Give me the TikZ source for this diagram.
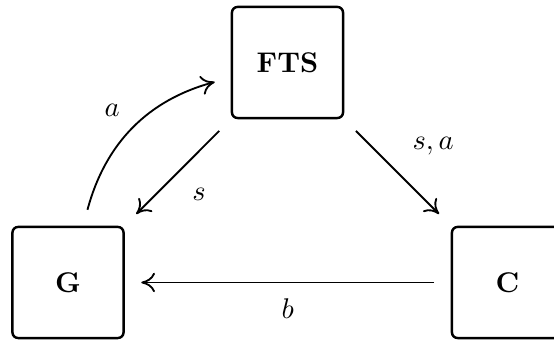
\documentclass[tikz,border=0pt]{standalone}
\usetikzlibrary{arrows.meta}
\begin{document}
\begin{tikzpicture}[x=0.351pt,y=0.351pt,
  box/.style={draw, line width=0.85pt, rounded corners=2pt, minimum size=39pt, inner sep=0pt, font=\bfseries},
  conn/.style={line width=0.65pt, -{To[length=4.8pt,width=6.8pt]}, shorten >=5.8pt, shorten <=5.8pt},
  lbl/.style={inner sep=0pt}]
\useasboundingbox (0,0) rectangle (554,341);
\node[box] (FTS) at (287.5,278.5) {FTS};
\node[box] (G) at (68,58.5) {G};
\node[box] (C) at (507.5,58.5) {C};
\draw[conn] (G) to[out=75,in=195,looseness=1.05] node[lbl, xshift=-7.8pt, yshift=6.6pt] {$a$} (FTS);
\draw[conn] (FTS) -- node[lbl, xshift=7.5pt, yshift=-7.7pt] {$s$} (G);
\draw[conn] (FTS) -- node[lbl, xshift=12.5pt, yshift=9.3pt] {$s,a$} (C);
\draw[conn] (C) -- node[lbl, yshift=-9.1pt] {$b$} (G);
\end{tikzpicture}
\end{document}
